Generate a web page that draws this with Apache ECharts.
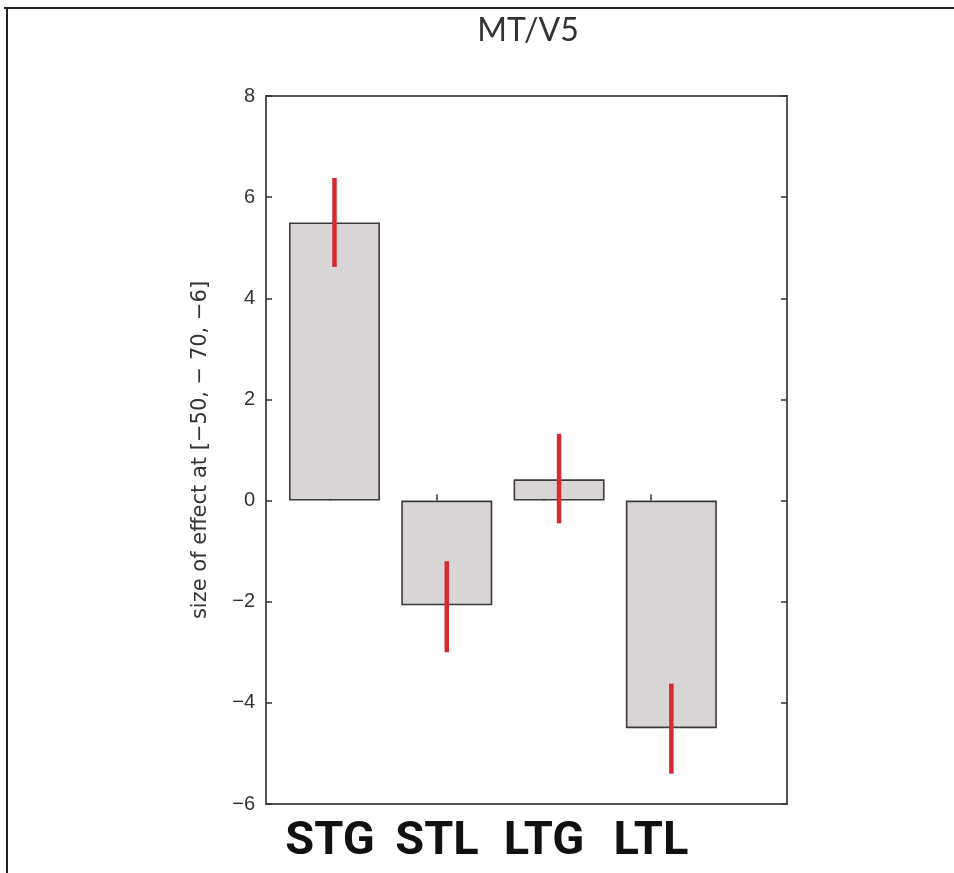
<!DOCTYPE html>
<html>
<head>
<meta charset="utf-8">
<script src="https://cdn.jsdelivr.net/npm/echarts@6/dist/echarts.min.js"></script>
<style>
  html, body { margin: 0; padding: 0; background: #fff; }
  #chart { width: 954px; height: 873px; }
</style>
</head>
<body>
<div id="chart"></div>
<script>
const categories = ['STG', 'STL', 'LTG', 'LTL']
const effectValues = [5.5, -2.07, 0.42, -4.5]
const errorHigh = [6.38, -1.2, 1.32, -3.62]
const errorLow = [4.62, -3.0, -0.45, -5.4]
const yTicks = { min: -6, max: 8, step: 2 }

const barData = categories.map((c, i) => [i + 1, effectValues[i]])
const errData = categories.map((c, i) => [i + 1, errorLow[i], errorHigh[i]])
const catPositions = categories.map((c, i) => i + 1)

const chart = echarts.init(document.getElementById('chart'))

const option = {
  animation: false,
  title: {
    text: 'MT/V5',
    left: 523,
    textAlign: 'center',
    top: 10,
    textStyle: { fontFamily: 'Lato', fontSize: 32, fontWeight: 'normal', color: '#333' }
  },
  graphic: [
    { type: 'line', shape: { x1: 4, y1: 8, x2: 954, y2: 8 }, style: { stroke: '#222', lineWidth: 2 } },
    { type: 'line', shape: { x1: 7, y1: 8, x2: 7, y2: 873 }, style: { stroke: '#222', lineWidth: 2 } }
  ],
  grid: {
    left: 266, right: 167, top: 96, bottom: 69,
    show: true, borderColor: '#555', borderWidth: 2, backgroundColor: '#fff'
  },
  xAxis: [
    { type: 'value', min: 0.39, max: 5.03, show: false },
    {
      type: 'value', min: 0.402, max: 5.271, position: 'bottom',
      axisLine: { show: false },
      splitLine: { show: false },
      axisTick: { show: true, inside: true, length: 6, customValues: catPositions, lineStyle: { color: '#333', width: 1.5 } },
      axisLabel: {
        customValues: catPositions,
        formatter: v => categories[Math.round(v) - 1] || '',
        margin: 15,
        fontFamily: 'Roboto', fontWeight: 'bold', fontSize: 47, color: '#111'
      }
    }
  ],
  yAxis: [
    {
      type: 'value', min: yTicks.min, max: yTicks.max, interval: yTicks.step,
      name: 'size of effect at [\u221250, \u2212 70, \u22126]',
      nameLocation: 'middle', nameGap: 55,
      nameTextStyle: { fontFamily: 'DejaVu Sans', fontSize: 21, color: '#333' },
      axisLine: { show: false },
      splitLine: { show: false },
      axisTick: { show: true, inside: true, length: 6, lineStyle: { color: '#333', width: 1.5 } },
      axisLabel: {
        margin: 11,
        fontFamily: 'Liberation Sans', fontSize: 20, color: '#333',
        formatter: v => String(v).replace('-', '\u2212')
      }
    },
    {
      type: 'value', min: yTicks.min, max: yTicks.max, interval: yTicks.step, position: 'right',
      axisLine: { show: false },
      splitLine: { show: false },
      axisTick: { show: true, inside: true, length: 6, lineStyle: { color: '#333', width: 1.5 } },
      axisLabel: { show: false }
    }
  ],
  series: [
    {
      type: 'bar',
      xAxisIndex: 0,
      yAxisIndex: 0,
      barWidth: 91,
      data: barData,
      itemStyle: { color: '#d9d5d7', borderColor: '#3a3a3a', borderWidth: 1.6 }
    },
    {
      type: 'custom',
      xAxisIndex: 0,
      yAxisIndex: 0,
      z: 5,
      data: errData,
      renderItem: function (params, api) {
        const lo = api.coord([api.value(0), api.value(1)])
        const hi = api.coord([api.value(0), api.value(2)])
        return {
          type: 'line',
          shape: { x1: lo[0], y1: lo[1], x2: hi[0], y2: hi[1] },
          style: { stroke: '#d42a30', lineWidth: 4.5 }
        }
      }
    }
  ]
}

chart.setOption(option)
</script>
</body>
</html>
